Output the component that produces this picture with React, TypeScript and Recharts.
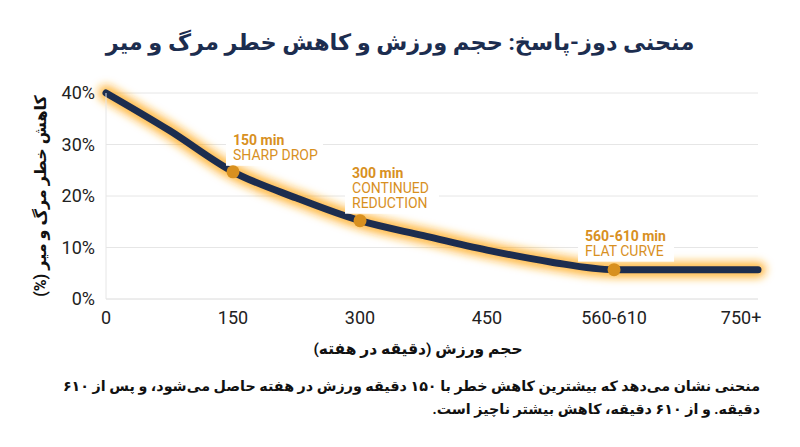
import { LineChart, Line, XAxis, YAxis, CartesianGrid } from "recharts";

// minutes of exercise per week vs. mortality risk reduction (%)
const minutes = [0, 75, 150, 225, 300, 375, 450, 525, 600, 770];
const riskReduction = [40, 32.7, 24.7, 19.6, 15.2, 12.3, 9.5, 7.2, 5.7, 5.7];

const xTicks = [0, 150, 300, 450, 600, 750];
const xTickLabels = ["0", "150", "300", "450", "560-610", "750+"];
const yTicks = [0, 10, 20, 30, 40];

// highlighted points
const markMinutes = [150, 300, 600];
const markTitles = ["150 min", "300 min", "560-610 min"];
const markNotes = [["SHARP DROP"], ["CONTINUED", "REDUCTION"], ["FLAT CURVE"]];

const title = "منحنی دوز-پاسخ: حجم ورزش و کاهش خطر مرگ و میر";
const yLabel = "کاهش خطر مرگ و میر (%)";
const xLabel = "حجم ورزش (دقیقه در هفته)";
const noteLines = [
  "منحنی نشان می‌دهد که بیشترین کاهش خطر با ۱۵۰ دقیقه ورزش در هفته حاصل می‌شود، و پس از ۶۱۰",
  "دقیقه. و از ۶۱۰ دقیقه، کاهش بیشتر ناچیز است.",
];

const data = minutes.map((m, i) => ({ m, risk: riskReduction[i] }));

const NAVY = "#1c2d4f";
const ORANGE = "#d8901f";
const FONT = "Roboto, 'DejaVu Sans', sans-serif";

// label placement relative to the dot
const labelLayout = [
  { dx: 0, dy: -32, w: 97 },
  { dx: -8, dy: -48, w: 94 },
  { dx: -29, dy: -34, w: 96 },
];

function MarkDot(props: any) {
  const { cx, cy, payload, index } = props;
  const k = markMinutes.indexOf(payload.m);
  if (k < 0) return <g key={`d${index}`} />;
  const { dx, dy, w } = labelLayout[k];
  const lines = [markTitles[k], ...markNotes[k]];
  const x0 = cx + dx;
  const y0 = cy + dy;
  return (
    <g key={`d${index}`}>
      <rect x={x0 - 7} y={y0 - 10} width={w} height={lines.length * 15 + 6} fill="#fff" />
      {lines.map((t, j) => (
        <text
          key={j}
          x={x0}
          y={y0 + j * 15}
          dominantBaseline="central"
          fill={ORANGE}
          fontSize={14}
          fontWeight={j === 0 ? 700 : 400}
          fontFamily={FONT}
        >
          {t}
        </text>
      ))}
      <circle cx={cx} cy={cy} r={6.5} fill={ORANGE} />
    </g>
  );
}

export default function App() {
  return (
    <div
      style={{
        position: "absolute",
        left: 0,
        top: 0,
        width: 800,
        height: 447,
        background: "#fff",
        fontFamily: FONT,
      }}
    >
      <div
        style={{
          position: "absolute",
          top: 29,
          left: 0,
          width: 800,
          textAlign: "center",
          direction: "rtl",
          fontSize: 22.5,
          fontWeight: 700,
          color: NAVY,
        }}
      >
        {title}
      </div>

      <LineChart
        width={800}
        height={447}
        data={data}
        margin={{ top: 93, right: 42, bottom: 118, left: 46 }}
      >
        <defs>
          <filter id="glow" x="-20%" y="-50%" width="140%" height="200%">
            <feGaussianBlur stdDeviation="4.5" />
          </filter>
        </defs>
        <CartesianGrid vertical={false} stroke="#e6e6e6" />
        <XAxis
          type="number"
          dataKey="m"
          domain={[0, 770]}
          ticks={xTicks}
          tickFormatter={(v: number) => xTickLabels[xTicks.indexOf(v)] ?? String(v)}
          tick={{ fontSize: 18, fill: "#222", fontFamily: FONT }}
          tickLine={false}
          axisLine={{ stroke: "#e6e6e6" }}
          tickMargin={6}
          height={30}
          interval={0}
        />
        <YAxis
          domain={[0, 40]}
          ticks={yTicks}
          tickFormatter={(v: number) => `${v}%`}
          tick={{ fontSize: 18, fill: "#222", fontFamily: FONT }}
          tickLine={false}
          axisLine={{ stroke: "#e6e6e6" }}
          tickMargin={5}
          width={60}
        />
        {/* glow under the curve */}
        <Line
          type="monotone"
          dataKey="risk"
          stroke="#ffa919"
          strokeWidth={16}
          strokeOpacity={0.8}
          strokeLinecap="round"
          filter="url(#glow)"
          dot={false}
          activeDot={false}
          isAnimationActive={false}
        />
        <Line
          type="monotone"
          dataKey="risk"
          stroke={NAVY}
          strokeWidth={7}
          strokeLinecap="round"
          dot={MarkDot}
          activeDot={false}
          isAnimationActive={false}
        />
      </LineChart>

      <div
        style={{
          position: "absolute",
          left: 40,
          top: 196,
          transform: "translate(-50%, -50%) rotate(-90deg)",
          whiteSpace: "nowrap",
          direction: "rtl",
          fontSize: 16,
          fontWeight: 700,
          color: "#111",
        }}
      >
        {yLabel}
      </div>

      <div
        style={{
          position: "absolute",
          top: 340,
          left: 418,
          transform: "translateX(-50%)",
          whiteSpace: "nowrap",
          direction: "rtl",
          fontSize: 15.5,
          fontWeight: 700,
          color: "#111",
        }}
      >
        {xLabel}
      </div>

      <div
        style={{
          position: "absolute",
          top: 375,
          right: 40,
          direction: "rtl",
          textAlign: "right",
          fontSize: 14.3,
          fontWeight: 700,
          lineHeight: "23px",
          color: "#111",
        }}
      >
        {noteLines.map((t, i) => (
          <div key={i} style={{ whiteSpace: "nowrap" }}>
            {t}
          </div>
        ))}
      </div>
    </div>
  );
}
